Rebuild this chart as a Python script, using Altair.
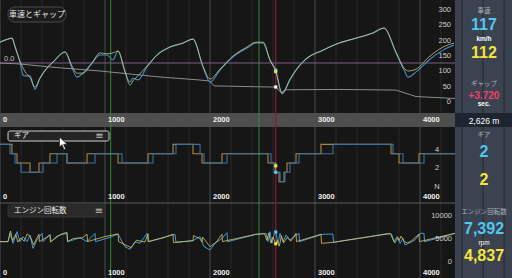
import altair as alt
import pandas as pd

# ---------------- data ----------------
spd_dist = [0, 76, 114, 143, 190, 219, 238, 286, 333, 381, 448, 505, 619, 686, 733, 790, 876, 952, 1019, 1076,
            1124, 1190, 1238, 1267, 1314, 1400, 1495, 1619, 1743, 1838, 1933, 2000, 2095, 2219, 2352, 2438, 2505,
            2571, 2626, 2686, 2762, 2819, 2914, 3076, 3229, 3390, 3552, 3657, 3771, 3848, 3886, 3962, 4086, 4219, 4324]
spd_a = [208, 218, 221, 192, 143, 101, 98, 98, 55, 91, 124, 143, 176, 124, 94, 107, 140, 166, 166, 150,
         179, 111, 78, 91, 85, 127, 166, 192, 205, 218, 127, 78, 117, 160, 189, 205, 205,
         150, 117, 39, 85, 117, 153, 182, 205, 221, 238, 254, 173, 117, 94, 111, 150, 182, 199]
spd_b = [208, 218, 221, 195, 146, 124, 112, 92, 62, 91, 124, 143, 176, 130, 107, 107, 140, 173, 170, 173,
         179, 114, 68, 82, 98, 130, 166, 192, 205, 218, 130, 88, 120, 163, 192, 208, 208,
         150, 112, 42, 88, 117, 153, 182, 205, 221, 238, 254, 176, 124, 114, 120, 160, 192, 205]

gap_dist = [0, 190, 476, 952, 1238, 1524, 1905, 1995, 2040, 2571, 2626, 2676, 2720, 3238, 3771, 3962, 4333]
gap_sec = [0, 0.15, 0.62, 1.24, 1.71, 2.17, 2.64, 2.8, 3.55, 3.72, 3.72, 4.6, 4.15, 4.1, 4.2, 5.2, 5.5]

gear_dist_a = [0, 95, 143, 200, 410, 543, 638, 905, 1162, 1457, 1676, 1905, 1943, 2162, 2581, 2610, 2667, 2714,
               2762, 2848, 3171, 3743, 3838, 4038, 4333]
gear_a = [5, 4, 3, 2, 3, 4, 3, 4, 3, 4, 5, 4, 3, 4, 3, 2, 1, 2, 3, 4, 5, 4, 3, 4, 4]
gear_dist_b = [0, 114, 162, 286, 371, 476, 638, 829, 1124, 1410, 1648, 1838, 1924, 2114, 2552, 2626, 2657, 2705,
               2733, 2819, 3057, 3724, 3800, 3990, 4333]
gear_b = [5, 4, 3, 2, 3, 4, 3, 4, 3, 4, 5, 4, 3, 4, 3, 2, 1, 2, 3, 4, 5, 4, 3, 4, 4]

rpm_dist_a = [0, 76, 95, 124, 162, 190, 219, 257, 286, 314, 352, 400, 410, 476, 486, 543, 571, 638, 643, 714,
              762, 829, 905, 910, 1048, 1124, 1162, 1190, 1238, 1286, 1333, 1400, 1410, 1524, 1667, 1676, 1838,
              1905, 1943, 2000, 2048, 2114, 2162, 2167, 2438, 2533, 2552, 2571, 2590, 2610, 2626, 2648, 2667,
              2695, 2724, 2762, 2800, 2848, 2852, 3067, 3171, 3176, 3705, 3733, 3752, 3781, 3810, 3838, 3857,
              3905, 3952, 4000, 4038, 4043, 4333]
rpm_a = [5290, 5290, 7101, 4928, 7464, 5290, 6377, 5290, 6739, 3841, 5652, 7101, 5290, 6884, 5290, 6522, 6739,
         7101, 5290, 5797, 6159, 5290, 7101, 5290, 6232, 6957, 5290, 4203, 3623, 5290, 4928, 7101, 5290, 6014,
         6884, 5145, 5507, 6377, 4203, 3478, 4928, 6014, 7246, 5290, 6884, 7101, 5290, 7464, 4928, 6739, 7392,
         4928, 7101, 5290, 6739, 5652, 6377, 7101, 5290, 6884, 6957, 5145, 7101, 6739, 5290, 6377, 4928, 6014,
         4565, 5072, 5652, 7101, 7101, 5290, 7101]
rpm_dist_b = [0, 76, 100, 120, 150, 170, 200, 230, 260, 290, 320, 350, 371, 376, 476, 480, 543, 590, 638, 643,
              700, 780, 829, 834, 1000, 1124, 1130, 1200, 1250, 1300, 1380, 1410, 1415, 1550, 1648, 1652, 1838,
              1843, 1900, 1924, 1929, 2000, 2060, 2114, 2119, 2438, 2520, 2540, 2560, 2580, 2600, 2626, 2640,
              2660, 2680, 2700, 2733, 2770, 2819, 2824, 3057, 3062, 3171, 3705, 3724, 3729, 3760, 3790, 3800,
              3820, 3850, 3880, 3920, 3990, 3995, 4333]
rpm_b = [5290, 5290, 7600, 5500, 6900, 5200, 6100, 5400, 7000, 6300, 4600, 6000, 6900, 5300, 6700, 5200, 6300,
         7000, 7300, 5300, 6000, 6100, 6900, 5300, 6400, 7000, 5300, 4500, 4000, 5600, 5200, 7000, 5300, 6100,
         6900, 5100, 5500, 6600, 6000, 5200, 6300, 4200, 5200, 6900, 5300, 6900, 7000, 5600, 7200, 5000, 6300,
         4837, 5600, 4300, 6600, 5000, 6200, 5400, 7100, 5300, 6900, 4928, 5145, 7000, 7000, 6400, 5000, 6200,
         5500, 6500, 5300, 5000, 5500, 6900, 5300, 7100]

cursor_dist = 2626
marker_speed = [117, 112]
marker_gap = 3.72
marker_gear = [2, 2.7]
marker_rpm = [7392, 4837]
green_marks = [1054, 2467]

speed_ticks = [0, 50, 100, 150, 200, 250, 300]
gear_ticks = [0, 2, 4]
gear_tick_labels = ["N", "2", "4"]
rpm_ticks = [0, 5000, 10000]
dist_ticks = [0, 1000, 2000, 3000, 4000]
minor_ticks = [d for d in range(0, 4801, 200) if d % 1000 != 0]

# ---------------- scales ----------------
XS = alt.Scale(domain=[0, 4876], range=[0, 512], nice=False, zero=False)
SPD = alt.Scale(domain=[-22.8, 345.3], range=[113, 0], nice=False, zero=False)
GAP = alt.Scale(domain=[-9.767, 7.752], range=[0, 113], nice=False, zero=False)
GEAR = alt.Scale(domain=[-1.3, 6.87], range=[203, 127], nice=False, zero=False)
RPM = alt.Scale(domain=[-2609, 13696], range=[278, 203], nice=False, zero=False)

JP = "Noto Sans CJK JP"
NUM = "Liberation Sans"

CYAN = "#4fc8f2"
YEL2 = "#f4e43c"

one = pd.DataFrame({"a": [0]})


def X(field):
    return alt.X(field, scale=XS, axis=None)


def box(x1, x2, y1, y2, fill, stroke=None, radius=0, sw=1):
    kw = dict(fill=fill, cornerRadius=radius)
    if stroke:
        kw.update(stroke=stroke, strokeWidth=sw)
    return alt.Chart(one).mark_rect(**kw).encode(
        x=alt.value(x1), x2=alt.value(x2), y=alt.value(y1), y2=alt.value(y2))


def label(txt, x, y, size, color, weight="normal", align="center", font=NUM):
    return alt.Chart(one).mark_text(
        text=txt, fontSize=size, color=color, fontWeight=weight, align=align,
        baseline="middle", font=font).encode(x=alt.value(x), y=alt.value(y))


def line_df(d, v):
    return pd.DataFrame({"d": d, "v": v})


layers = []

# backgrounds
layers.append(box(455, 512, 0, 278, "#3b4250"))

# vertical grid
layers.append(alt.Chart(pd.DataFrame({"d": minor_ticks})).mark_rule(color="#282828", strokeWidth=1).encode(
    x=X("d:Q"), y=alt.value(0), y2=alt.value(278)))
layers.append(alt.Chart(pd.DataFrame({"d": dist_ticks})).mark_rule(color="#4a4a4a", strokeWidth=1).encode(
    x=X("d:Q"), y=alt.value(0), y2=alt.value(278)))

# grey distance bar and separators
layers.append(box(0, 455, 113, 127, "#4e4e4e"))
layers.append(box(455, 512, 113, 127, "#1e2430"))
layers.append(alt.Chart(one).mark_rule(color="#5a5a5a").encode(
    x=alt.value(0), x2=alt.value(455), y=alt.value(203)))

# marker lines
layers.append(alt.Chart(pd.DataFrame({"d": green_marks})).mark_rule(color="#2f8a30", strokeWidth=1).encode(
    x=X("d:Q"), y=alt.value(0), y2=alt.value(278)))
layers.append(alt.Chart(pd.DataFrame({"d": [cursor_dist]})).mark_rule(color="#8a1c2c", strokeWidth=1.2).encode(
    x=X("d:Q"), y=alt.value(0), y2=alt.value(278)))

# gap zero line and gap trace
layers.append(alt.Chart(pd.DataFrame({"g": [0]})).mark_rule(color="#7e5f82", strokeWidth=1).encode(
    y=alt.Y("g:Q", scale=GAP, axis=None), x=alt.value(0), x2=alt.value(455)))
layers.append(alt.Chart(line_df(gap_dist, gap_sec)).mark_line(color="#8c8c8c", strokeWidth=1).encode(
    x=X("d:Q"), y=alt.Y("v:Q", scale=GAP, axis=None)))

# speed traces
layers.append(alt.Chart(line_df(spd_dist, spd_a)).mark_line(
    color="#3f8fca", strokeWidth=1.1, interpolate="monotone").encode(
    x=X("d:Q"), y=alt.Y("v:Q", scale=SPD, axis=None)))
layers.append(alt.Chart(line_df(spd_dist, spd_b)).mark_line(
    color="#dcc878", strokeWidth=1.0, opacity=0.75, interpolate="monotone").encode(
    x=X("d:Q"), y=alt.Y("v:Q", scale=SPD, axis=None)))

# gear traces
layers.append(alt.Chart(line_df(gear_dist_b, gear_b)).mark_line(
    color="#a8874a", strokeWidth=1.1, interpolate="step-after").encode(
    x=X("d:Q"), y=alt.Y("v:Q", scale=GEAR, axis=None)))
layers.append(alt.Chart(line_df(gear_dist_a, gear_a)).mark_line(
    color="#3a72a0", strokeWidth=1.1, interpolate="step-after").encode(
    x=X("d:Q"), y=alt.Y("v:Q", scale=GEAR, axis=None)))

# rpm traces
layers.append(alt.Chart(line_df(rpm_dist_a, rpm_a)).mark_line(color="#3f9ad6", strokeWidth=1.0).encode(
    x=X("d:Q"), y=alt.Y("v:Q", scale=RPM, axis=None)))
layers.append(alt.Chart(line_df(rpm_dist_b, rpm_b)).mark_line(
    color="#dcc060", strokeWidth=1.0, opacity=0.8).encode(
    x=X("d:Q"), y=alt.Y("v:Q", scale=RPM, axis=None)))

# cursor markers
def marker(val, scale, color):
    return alt.Chart(pd.DataFrame({"d": [cursor_dist], "v": [val]})).mark_square(
        size=10, color=color, opacity=1).encode(x=X("d:Q"), y=alt.Y("v:Q", scale=scale, axis=None))

layers.append(marker(marker_speed[0], SPD, CYAN))
layers.append(marker(marker_speed[1], SPD, YEL2))
layers.append(marker(marker_gap, GAP, "#ffffff"))
layers.append(marker(marker_gear[0], GEAR, CYAN))
layers.append(marker(marker_gear[1], GEAR, YEL2))
layers.append(marker(marker_rpm[0], RPM, CYAN))
layers.append(marker(marker_rpm[1], RPM, YEL2))

# tick labels
def ticks(vals, txts, scale, x, align, dy):
    df = pd.DataFrame({"v": vals, "t": txts})
    return alt.Chart(df).mark_text(fontSize=7.5, color="#d0d0d0", align=align, baseline="middle",
                                   dy=dy, font=NUM).encode(
        x=alt.value(x), y=alt.Y("v:Q", scale=scale, axis=None), text="t:N")

layers.append(ticks(speed_ticks, [str(v) for v in speed_ticks], SPD, 451, "right", -4))
layers.append(ticks(gear_ticks, gear_tick_labels, GEAR, 437, "center", -4))
layers.append(ticks(rpm_ticks, [str(v) for v in rpm_ticks], RPM, 452, "right", -4))
layers.append(alt.Chart(pd.DataFrame({"g": [0]})).mark_text(
    text="0.0", fontSize=7.5, color="#c0c0c0", align="left", baseline="middle", dy=-3.5, font=NUM).encode(
    x=alt.value(4), y=alt.Y("g:Q", scale=GAP, axis=None)))

for yy in (120, 197, 273):
    layers.append(alt.Chart(pd.DataFrame({"d": dist_ticks, "t": [str(v) for v in dist_ticks]})).mark_text(
        fontSize=7.5, color="#f0f0f0", align="left", baseline="middle", dx=3, font=NUM, fontWeight="bold").encode(
        x=X("d:Q"), y=alt.value(yy), text="t:N"))

# panel headers
layers.append(box(8, 66, 7, 22, "#1c1c1c", "#4a4a4a", 7))
layers.append(label("車速とギャップ", 37, 14.5, 8, "#e8e8e8", font=JP))
layers.append(box(8, 109, 131, 141, "#242424", "#cfcfcf", 2))
layers.append(label("ギア", 14, 136, 7.5, "#e8e8e8", align="left", font=JP))
layers.append(label("≡", 99.5, 135.5, 10, "#bbbbbb", font="DejaVu Sans"))
layers.append(box(8, 105, 205, 217, "#2a2a2a", "#333333", 2))
layers.append(label("エンジン回転数", 14, 211, 7.5, "#e8e8e8", align="left", font=JP))
layers.append(label("≡", 99, 210.5, 10, "#bbbbbb", font="DejaVu Sans"))

# mouse cursor
layers.append(alt.Chart(one).mark_point(
    shape="M-0.7,-1 L-0.7,0.55 L-0.3,0.2 L0.0,0.95 L0.25,0.85 L-0.05,0.12 L0.5,0.12 Z",
    filled=True, fill="#ffffff", stroke="#222222", strokeWidth=0.8, size=169, opacity=1).encode(
    x=alt.value(64), y=alt.value(143.5)))

# right panel read-outs
RC = 484
layers += [
    label("車速", RC, 10.5, 6.5, "#aab0bb", font=JP),
    label("117", RC, 25, 16, CYAN, "bold"),
    label("km/h", RC, 39, 6.5, "#ffffff", "bold"),
    label("112", RC, 52.5, 16, YEL2, "bold"),
    label("ギャップ", RC, 84, 6.5, "#aab0bb", font=JP),
    label("+3.720", RC, 95.5, 10, "#f0406a", "bold"),
    label("sec.", RC, 103.5, 6.5, "#ffffff", "bold"),
    label("2,626 m", RC, 120.5, 8.5, "#ffffff"),
    label("ギア", RC, 135, 6.5, "#aab0bb", font=JP),
    label("2", RC, 152, 16, CYAN, "bold"),
    label("2", RC, 180, 16, YEL2, "bold"),
    label("エンジン回転数", RC, 212, 6.5, "#aab0bb", font=JP),
    label("7,392", RC, 228.5, 16, CYAN, "bold"),
    label("rpm", RC, 243, 6.5, "#ffffff"),
    label("4,837", RC, 255.5, 16, YEL2, "bold"),
]

chart = alt.layer(*layers).resolve_scale(y="independent").properties(
    width=512, height=278, background="#161616", padding=0,
    autosize=alt.AutoSizeParams(type="none")
).configure_view(stroke=None)

chart.save("out.html", embed_options={"renderer": "svg", "actions": False})
